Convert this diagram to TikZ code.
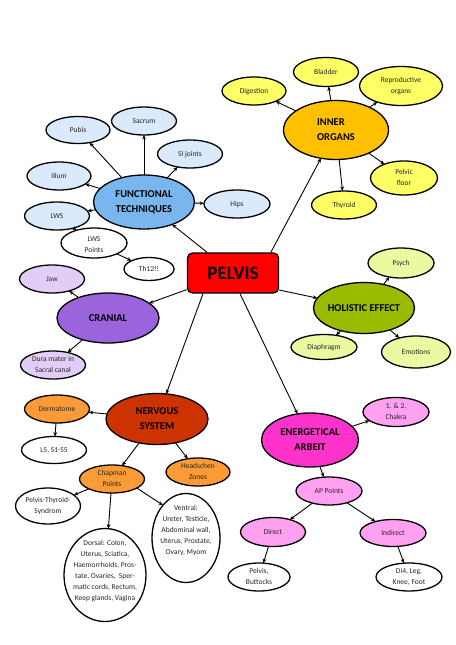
\documentclass[tikz,border=0pt]{standalone}
\usepackage{fontspec}
\setmainfont{Carlito}
\usetikzlibrary{shapes.geometric,arrows.meta,calc}

\definecolor{pelRed}{RGB}{255,0,0}
\definecolor{funcMain}{RGB}{122,182,238}
\definecolor{funcSub}{RGB}{218,234,250}
\definecolor{innerMain}{RGB}{255,192,0}
\definecolor{innerSub}{RGB}{255,255,102}
\definecolor{cranMain}{RGB}{155,100,220}
\definecolor{cranSub}{RGB}{225,205,245}
\definecolor{holMain}{RGB}{153,187,0}
\definecolor{holSub}{RGB}{235,250,160}
\definecolor{nervMain}{RGB}{204,51,0}
\definecolor{nervSub}{RGB}{250,155,55}
\definecolor{enMain}{RGB}{255,51,204}
\definecolor{enSub}{RGB}{255,160,240}

\newcommand{\zt}[2][-2]{\smash{\raisebox{#1bp}{\makebox[0pt]{\begin{tabular}{@{}c@{}}#2\end{tabular}}}}}
\newcommand{\zl}[2][-3]{\smash{\raisebox{#1bp}{\makebox[0pt]{\begin{tabular}{@{}l@{}}#2\end{tabular}}}}}

\tikzset{
  base/.style={ellipse, draw=black, line width=1.3bp, inner sep=0pt, outer sep=0pt},
  sub/.style={base, font=\fontsize{7.5bp}{11bp}\selectfont, text=black!85},
  main/.style={base, font=\fontsize{10.5bp}{15bp}\selectfont\bfseries},
  sz/.style 2 args={minimum width=#1bp, minimum height=#2bp},
  arr/.style={-{Stealth[length=4.5bp,width=3.8bp]}, line width=0.9bp},
}

\begin{document}
\begin{tikzpicture}[x=1bp,y=-1bp]
\useasboundingbox (0,0) rectangle (456,645);
\fill[white] (0,0) rectangle (456,645);

% centre
\node[draw=black, line width=1.3bp, fill=pelRed, rounded corners=5bp, minimum width=91bp, minimum height=40bp, inner sep=0pt,
      font=\fontsize{19bp}{22bp}\selectfont\bfseries] (pelvis) at (233,273) {PELVIS};

% functional techniques
\node[main, fill=funcMain, sz={101}{54}] (func) at (144,202) {\zt[-3]{FUNCTIONAL\\TECHNIQUES}};
\node[sub, fill=funcSub, sz={64}{27}] (pubis) at (78,130) {\zt{Pubis}};
\node[sub, fill=funcSub, sz={65}{28}] (sacrum) at (144,121) {\zt{Sacrum}};
\node[sub, fill=funcSub, sz={65}{28}] (si) at (190,154) {\zt{SI joints}};
\node[sub, fill=funcSub, sz={64}{28}] (ilium) at (59,176) {\zt{Ilium}};
\node[sub, fill=funcSub, sz={65}{28}] (lws) at (57,216) {\zt{LWS}};
\node[sub, fill=white, sz={66}{30}] (lwsp) at (94,243) {\zt[-4]{LWS\\Points}};
\node[sub, fill=white, sz={50}{23}] (th12) at (149,269) {\zt{Th12!!}};
\node[sub, fill=funcSub, sz={66}{28}] (hips) at (237,204) {\zt{Hips}};

% inner organs
\node[main, fill=innerMain, sz={105}{59}] (inner) at (336,130) {\zl{INNER\\ORGANS}};
\node[sub, fill=innerSub, sz={64}{28}] (digest) at (254,91) {\zt{Digestion}};
\node[sub, fill=innerSub, sz={65}{29}] (bladder) at (326,72) {\zt{Bladder}};
\node[sub, fill=innerSub, sz={83}{39}] (repro) at (401,86) {\zt{Reproductive\\organs}};
\node[sub, fill=innerSub, sz={67}{34}] (pfloor) at (404,178) {\zt{Pelvic\\floor}};
\node[sub, fill=innerSub, sz={65}{28}] (thyroid) at (344,205) {\zt{Thyroid}};

% holistic effect
\node[main, fill=holMain, sz={101}{51}] (hol) at (364,308) {\zt[-3]{HOLISTIC EFFECT}};
\node[sub, fill=holSub, sz={66}{30}] (psych) at (401,263) {\zt{Psych}};
\node[sub, fill=holSub, sz={66}{25}] (diaph) at (324,347) {\zt{Diaphragm}};
\node[sub, fill=holSub, sz={69}{32}] (emot) at (416,352) {\zt{Emotions}};

% cranial
\node[main, fill=cranMain, sz={102}{50}] (cran) at (108,318) {\zt[-3]{CRANIAL}};
\node[sub, fill=cranSub, sz={65}{28}] (jaw) at (52,279) {\zt{Jaw}};
\node[sub, fill=cranSub, sz={65}{28}] (dura) at (53,365) {\zt{Dura mater in\\Sacral canal}};

% nervous system
\node[main, fill=nervMain, sz={102}{51}] (nerv) at (157,419) {\zt[-3]{NERVOUS\\SYSTEM}};
\node[sub, fill=nervSub, sz={65}{28}] (derm) at (57,409) {\zt{Dermatome}};
\node[sub, fill=white, sz={65}{27}] (l5) at (54,450) {\zt{L5, S1-S5}};
\node[sub, fill=nervSub, sz={65}{28}] (chap) at (112,479) {\zt{Chapman\\Points}};
\node[sub, fill=nervSub, sz={64}{28}] (head) at (198,472) {\zt{Headschen\\Zones}};
\node[sub, fill=white, sz={65}{36}] (pts) at (48,506) {\zt{Pelvis-Thyroid-\\Syndrom}};
\node[sub, fill=white, sz={82}{93}] (dorsal) at (105,575) {\zt[2]{Dorsal: Colon,\\Uterus, Sciatica,\\Haemorrhoids, Pros-\\tate, Ovaries,\ \ Sper-\\matic cords, Rectum,\\Keep glands, Vagina}};
\node[sub, fill=white, sz={68}{89}] (ventral) at (186,538) {\zt[6]{Ventral:\\Ureter, Testicle,\\Abdominal wall,\\Uterus, Prostate,\\Ovary, Myom}};

% energetical arbeit
\node[main, fill=enMain, sz={97}{54}] (en) at (310,440) {\zt[-3]{ENERGETICAL\\ARBEIT}};
\node[sub, fill=enSub, sz={66}{29}] (chakra) at (396,412) {\zt{1. \& 2.\\Chakra}};
\node[sub, fill=enSub, sz={66}{28}] (ap) at (329,491) {\zt{AP Points}};
\node[sub, fill=enSub, sz={65}{29}] (direct) at (273,532) {\zt{Direct}};
\node[sub, fill=enSub, sz={66}{27}] (indirect) at (393,533) {\zt{Indirect}};
\node[sub, fill=white, sz={62}{28}] (butt) at (259,577) {\zt{Pelvis,\\Buttocks}};
\node[sub, fill=white, sz={66}{28}] (di4) at (409,577) {\zt{Di4, Leg,\\Knee, Foot}};

% connectors from the centre
\coordinate (pInner) at ($(pelvis.north west)+(84,0)$);
\coordinate (pHol) at ($(pelvis.east)+(0,17)$);
\coordinate (pNerv) at ($(pelvis.south)+(-30,0)$);
\coordinate (pEn) at ($(pelvis.south)+(7,0)$);
\draw[arr] (pelvis) -- (func);
\draw[arr] (pInner) -- (inner);
\draw[arr] (pelvis) -- (cran);
\draw[arr] (pHol) -- (hol);
\draw[arr] (pNerv) -- (nerv);
\draw[arr] (pEn) -- (en);

% functional
\draw[arr] (func) -- (pubis);
\draw[arr] (func) -- (sacrum);
\draw[arr] (func) -- (si);
\draw[arr] (func) -- (ilium);
\draw[arr] (func) -- (lws);
\draw[arr] (func) -- (hips);
\draw[arr] (lws) -- (lwsp);
\draw[arr] (lwsp) -- (th12);

% inner
\draw[arr] (inner) -- (digest);
\draw[arr] (inner) -- (bladder);
\draw[arr] (inner) -- (repro);
\draw[arr] (inner) -- (pfloor);
\draw[arr] (inner) -- (thyroid);

% holistic
\draw[arr] (hol) -- (psych);
\draw[arr] (hol) -- (diaph);
\draw[arr] (hol) -- (emot);

% cranial
\draw[arr] (cran) -- (jaw);
\draw[arr] (cran) -- (dura);

% nervous
\draw[arr] (nerv) -- (derm);
\draw[arr] (derm) -- (l5);
\draw[arr] (nerv) -- (chap);
\draw[arr] (nerv) -- (head);
\draw[arr] (chap) -- (pts);
\draw[arr] (chap) -- (dorsal);
\draw[arr] (chap.-20.5) -- (ventral.125);

% energetical
\draw[arr] (en) -- (chakra);
\draw[arr] (en) -- (ap);
\draw[arr] (ap) -- (direct);
\draw[arr] (ap) -- (indirect);
\draw[arr] (direct) -- (butt);
\draw[arr] (indirect) -- (di4);
\end{tikzpicture}
\end{document}
